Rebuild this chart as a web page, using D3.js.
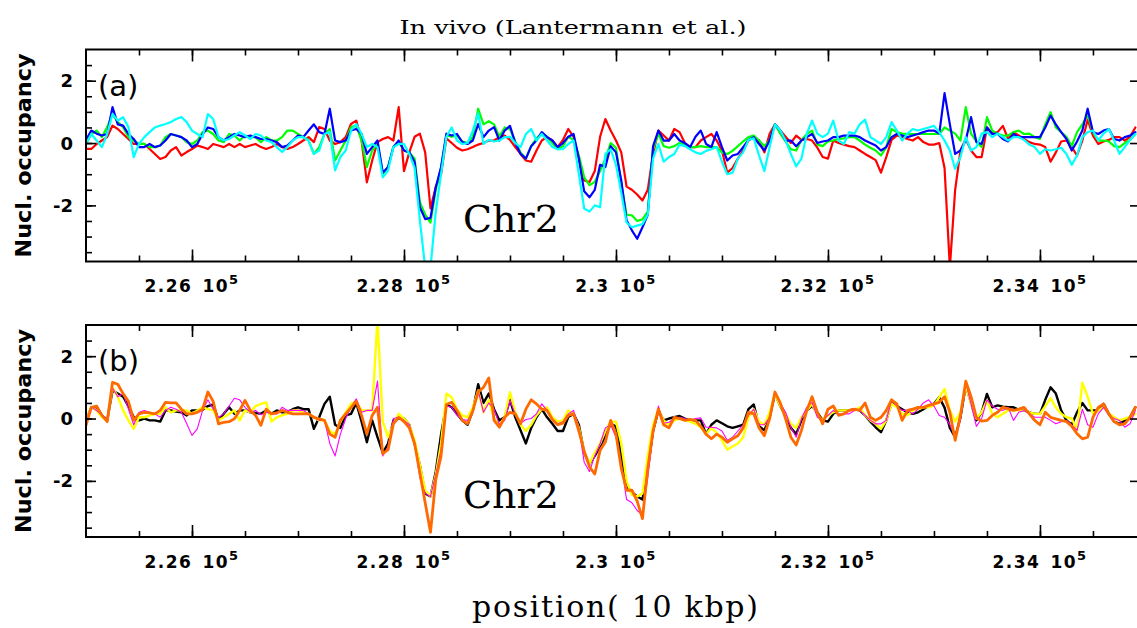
<!DOCTYPE html>
<html><head><meta charset="utf-8">
<script src="https://cdn.jsdelivr.net/npm/d3@7"></script>
<style>body{margin:0;background:#fff} svg{display:block}</style>
</head><body>
<svg id="chart" width="1137" height="628"></svg>
<script>
// ---- data (positions in units of 10^5 bp, sampled every 0.0005) ----
const xStart = 2.25, xStep = 0.0005;
const xTicksMajor = [2.26, 2.28, 2.30, 2.32, 2.34];
const xTickLabels = ["2.26", "2.28", "2.3", "2.32", "2.34"];
const xTickExp = "5";
const yTicksMajor = [-2, 0, 2];
const yTickLabels = ["-2", "0", "2"];

const redA = [
-0.19,-0.19,-0.03,0.08,0.19,0.56,0.45,0.29,0.13,-0.03,
-0.03,-0.03,-0.19,-0.35,-0.51,-0.45,-0.24,-0.13,-0.40,-0.29,
-0.19,-0.08,-0.13,-0.19,-0.03,-0.08,-0.13,-0.03,-0.13,-0.03,
-0.13,-0.08,-0.03,-0.13,-0.19,-0.13,-0.03,-0.13,-0.19,-0.13,
-0.03,0.08,0.19,0.03,0.51,0.45,0.08,-0.03,0.03,0.19,
0.61,0.72,0.08,-1.26,-0.56,0.03,0.13,0.19,0.08,1.15,
-0.9,-0.3,0.2,0.3,-0.3,-2.1,-1.4,-1.0,0.15,0.0,
-0.15,-0.24,-0.2,-0.13,-0.05,0.0,0.08,0.08,0.19,0.24,
0.1,-0.13,-0.35,-0.56,-0.6,-0.24,0.08,0.19,0.08,-0.13,
0.1,0.45,0.2,-0.5,-1.2,-1.25,-0.9,0.2,0.77,0.4,
0.08,-0.3,-1.4,-1.5,-1.65,-1.84,-1.5,-0.35,0.4,0.24,
0.08,0.45,0.35,0.0,-0.13,-0.13,0.08,0.19,0.29,0.08,
-0.24,-0.95,-0.8,-0.5,-0.24,0.08,0.19,0.08,
-0.3,0.3,0.6,0.4,0.2,0.0,0.24,0.1,0.13,0.08,
-0.15,-0.45,-0.5,0.08,0.0,-0.05,-0.1,-0.13,-0.24,-0.35,
-0.45,-0.55,-0.95,-0.45,0.1,0.24,0.19,0.13,0.08,0.19,
0.03,-0.05,-0.05,0.0,-0.8,-4.0,-1.5,-0.24,0.13,-0.24,
-0.45,-0.45,0.5,0.3,0.35,0.55,0.13,0.35,0.24,0.13,
0.03,-0.03,-0.05,-0.13,-0.6,-0.3,0.05,0.08,-0.13,-0.4,
0.08,0.75,0.24,-0.03,0.05,0.1,0.19,0.19,0.08,0.2,
0.5];
const greenA = [
-0.03,0.29,0.4,0.19,0.51,0.93,0.67,0.51,0.19,0.08,
-0.03,-0.03,-0.13,-0.13,-0.08,0.19,0.29,0.24,0.19,0.03,
-0.03,0.08,0.35,0.4,0.29,0.08,0.03,0.29,0.24,0.08,
0.24,0.19,0.19,0.03,0.19,0.08,0.08,0.19,0.4,0.4,
0.29,0.19,0.08,-0.35,-0.13,0.29,0.45,-0.56,-0.24,0.08,
0.51,0.56,0.08,-0.77,-0.24,-0.03,-0.99,-0.77,-0.13,0.03,
-0.24,-0.3,-0.5,-1.9,-2.3,-2.55,-1.5,-0.8,0.25,0.2,
0.24,0.05,0.0,0.2,1.1,0.6,0.7,0.6,0.2,0.5,
0.45,0.05,-0.3,-0.5,-0.1,0.15,0.3,0.2,0.0,-0.2,
-0.1,0.2,0.1,-0.4,-1.1,-1.35,-1.25,-0.9,-0.5,0.0,
-0.15,-1.3,-2.3,-2.32,-2.5,-2.45,-2.2,-0.2,0.3,-0.1,
-0.15,-0.1,0.0,-0.05,-0.13,-0.13,-0.1,-0.13,-0.13,-0.13,
-0.3,-0.35,-0.25,-0.1,0.05,0.19,0.24,0.08,
-0.1,0.08,0.6,0.3,0.05,-0.2,-0.24,0.1,0.29,0.4,
-0.05,-0.1,0.05,0.08,0.13,0.15,0.19,0.19,0.08,-0.05,
-0.15,-0.24,-0.4,-0.13,0.45,0.35,0.3,0.29,0.29,0.29,
0.29,0.29,0.29,0.29,0.5,0.4,0.3,0.08,1.15,0.3,
0.05,-0.13,0.83,0.4,0.29,0.24,0.24,0.35,0.4,0.29,
0.3,0.19,0.13,0.6,0.99,0.5,0.35,0.2,-0.1,0.35,
0.6,0.9,0.35,0.08,0.08,0.05,-0.1,-0.13,0.0,0.1,
0.29];
const blueA = [
0.1,0.4,0.3,0.24,0.29,1.15,0.6,0.56,0.29,0.13,
-0.13,-0.13,-0.03,-0.13,-0.08,0.08,0.29,0.24,0.19,0.08,
-0.13,-0.03,0.29,0.5,0.45,0.19,0.08,0.19,0.29,0.24,
0.19,0.24,0.19,0.13,0.13,0.08,0.03,-0.13,-0.08,0.08,
0.24,0.19,0.4,0.6,0.35,0.29,1.1,0.08,0.03,0.08,
0.4,0.45,0.29,-0.35,-0.13,0.08,-0.95,-0.77,-0.13,0.08,
-0.24,-0.3,-0.6,-2.06,-2.44,-2.4,-1.42,-0.77,0.3,0.24,
0.29,0.03,-0.03,0.08,0.61,0.19,0.4,0.51,0.08,0.4,
0.55,0.0,-0.35,-0.5,-0.1,0.08,0.35,0.19,0.08,-0.13,
0.0,0.2,0.29,-0.5,-1.55,-1.74,-1.5,-0.7,-0.77,-0.1,
-0.3,-1.2,-2.48,-2.8,-3.07,-2.7,-2.3,-0.1,0.4,0.08,
0.08,0.29,0.08,0.0,-0.13,0.2,0.4,-0.03,-0.13,0.35,
-0.13,-0.56,-0.4,-0.35,-0.13,0.1,0.19,-0.03,
-0.24,0.08,0.6,0.4,0.08,0.08,-0.1,0.08,0.19,0.29,
0.0,0.05,0.08,0.19,0.19,0.24,0.24,0.24,0.19,0.08,
0.0,-0.08,-0.24,-0.13,0.19,0.29,0.24,0.19,0.24,0.29,
0.35,0.4,0.4,0.3,1.6,0.6,-0.35,-0.24,0.08,0.83,
0.03,-0.03,0.5,0.29,0.3,0.13,0.05,0.29,0.19,0.19,
0.19,0.19,0.19,0.5,0.88,0.6,0.35,0.13,-0.24,0.05,
0.4,1.1,0.35,0.29,0.4,0.45,0.13,0.08,0.19,0.24,
0.35];
const cyanA = [
-0.03,0.29,0.08,-0.13,0.29,0.93,0.72,0.83,0.51,-0.45,
-0.03,0.19,0.35,0.5,0.56,0.61,0.67,0.77,0.83,0.67,
0.4,0.29,0.19,0.93,0.77,0.19,0.08,0.13,0.24,0.35,
0.24,0.13,0.29,0.24,0.08,0.03,-0.13,-0.29,-0.13,0.08,
0.19,0.19,0.08,-0.35,-0.24,0.29,0.35,-0.88,-0.45,-0.24,
0.4,0.61,0.29,-0.13,-0.03,-0.13,-1.1,-0.88,-0.13,-0.03,
-0.03,-0.35,-0.8,-2.48,-4.0,-4.0,-2.2,-0.99,0.2,0.5,
0.08,-0.03,0.0,0.4,0.95,-0.03,0.1,0.05,0.08,0.19,
0.2,0.0,-0.13,0.29,0.45,0.08,0.29,0.08,-0.13,-0.2,
-0.2,-0.03,0.08,-1.0,-2.1,-2.2,-2.0,-2.06,-0.35,-0.2,
-0.7,-1.6,-2.55,-2.7,-2.65,-2.6,-2.3,-0.5,-0.03,-0.6,
-0.45,-0.35,-0.05,-0.1,-0.2,-0.3,-0.35,-0.25,-0.2,-0.13,
-0.6,-1.0,-0.95,-0.5,-0.3,0.1,0.15,-0.4,
-0.9,-0.13,0.6,0.4,0.08,-0.35,-0.75,-0.5,0.3,0.72,
0.3,0.19,0.3,0.72,0.08,-0.03,0.35,0.3,0.6,0.75,
0.19,0.08,-0.03,0.19,0.67,0.4,0.08,0.3,0.45,0.4,
0.45,0.5,0.55,0.35,0.08,-0.24,-0.83,-0.45,0.19,-0.24,
-0.13,0.3,0.35,0.19,0.3,0.19,0.08,0.19,0.19,0.1,
-0.05,-0.13,-0.35,-0.2,-0.24,-0.2,-0.15,-0.35,-0.7,-0.4,
0.19,0.35,0.4,0.08,0.3,0.45,0.08,-0.35,-0.13,0.1,
0.29];

const blackB = [
-0.06,0.36,0.36,0.1,-0.06,0.9,0.8,0.7,0.4,0.04,
-0.06,0.0,-0.06,-0.06,-0.1,0.26,0.26,0.22,0.2,0.1,
0.26,0.26,0.28,0.4,0.45,-0.06,0.15,0.36,0.15,0.26,
0.26,0.2,0.18,0.15,0.26,0.15,0.26,0.2,0.2,0.3,
0.36,0.3,0.3,-0.33,0.04,0.47,0.7,-0.2,-0.3,0.1,
0.15,0.5,-0.1,-0.76,-0.06,-0.6,-1.1,-0.8,-0.06,0.0,
0.0,-0.2,-0.8,-1.5,-2.4,-2.5,-1.7,-0.5,0.45,0.36,
0.15,-0.06,-0.2,0.26,1.1,0.5,0.8,0.3,-0.06,0.04,
0.6,0.04,-0.38,-0.8,-0.3,0.04,0.3,0.04,-0.17,-0.4,
-0.4,0.05,0.15,-0.2,-1.1,-1.45,-1.2,-0.9,-0.55,-0.17,
-0.25,-1.2,-2.2,-2.36,-2.5,-2.6,-1.6,-0.4,0.26,-0.06,
0.0,0.04,0.08,0.0,-0.06,-0.06,-0.06,-0.5,-0.2,-0.06,
-0.15,-0.25,-0.3,-0.25,-0.2,0.3,0.45,-0.25,
-0.38,0.04,0.8,0.4,0.1,-0.3,-0.5,-0.06,0.26,0.4,
0.2,-0.06,-0.1,0.15,0.26,0.26,0.26,0.3,0.26,0.1,
-0.1,-0.28,-0.44,-0.06,0.5,0.4,0.3,0.2,0.15,0.2,
0.3,0.4,0.47,0.68,0.35,-0.3,-0.6,0.04,1.06,0.5,
-0.06,0.2,0.79,0.36,0.42,0.38,0.36,0.36,0.28,0.26,
0.2,0.15,0.15,0.6,1.0,0.8,0.26,-0.06,-0.2,0.2,
0.5,0.26,0.26,0.26,0.47,0.15,-0.1,-0.17,-0.06,0.04,
0.36];
const yellowB = [
-0.06,0.36,0.26,0.04,-0.06,1.0,0.7,0.26,-0.06,-0.33,
0.04,0.04,0.1,0.15,0.15,0.36,0.2,0.26,0.26,0.26,
0.15,0.26,0.36,0.3,0.26,-0.06,0.04,0.15,0.26,-0.06,
0.26,0.2,0.4,0.47,0.52,-0.1,0.04,0.1,0.15,0.26,
0.26,0.2,0.15,0.04,-0.06,-0.06,-0.4,-0.5,-0.1,0.2,
0.47,0.55,0.26,0.26,0.26,3.2,-0.1,-0.6,-0.17,0.15,
0.0,-0.2,-0.7,-1.5,-2.3,-2.5,-1.8,-0.8,0.8,0.68,
0.3,0.1,0.04,0.36,0.9,0.2,0.6,0.0,-0.2,0.04,
0.84,0.2,-0.2,-0.4,-0.2,0.1,0.3,0.36,0.04,-0.1,
-0.06,0.26,0.15,-0.3,-1.05,-1.45,-1.1,-0.8,-0.4,-0.1,
-0.1,-0.8,-2.0,-2.45,-2.5,-2.4,-1.2,-0.2,0.3,-0.06,
-0.2,-0.06,0.0,-0.06,-0.1,-0.17,-0.28,-0.5,-0.3,-0.45,
-0.7,-1.0,-0.9,-0.8,-0.6,0.04,0.3,-0.1,
-0.2,0.2,0.8,0.4,0.15,-0.17,-0.3,0.04,0.26,0.47,
0.1,-0.06,0.1,0.2,0.26,0.26,0.26,0.26,0.36,0.1,
-0.06,-0.17,-0.33,-0.06,0.47,0.36,0.15,0.1,0.26,0.3,
0.36,0.36,0.42,0.68,0.95,0.26,-0.1,0.2,1.06,0.47,
0.0,0.2,0.58,0.15,0.04,0.15,0.26,0.26,0.26,0.26,
0.2,0.15,0.15,0.4,0.65,0.36,0.15,0.04,0.0,-0.38,
1.15,0.7,0.15,0.26,0.36,0.15,0.04,-0.06,0.0,0.04,
0.15];
const magentaB = [
-0.06,0.36,0.26,0.1,0.0,0.98,0.7,0.8,0.3,-0.2,
0.2,0.26,0.2,0.15,0.04,0.26,0.36,0.3,0.2,-0.17,
-0.54,-0.33,0.26,0.6,0.3,0.04,0.15,0.4,0.65,0.6,
0.36,0.2,0.26,0.12,0.2,0.15,0.15,0.36,0.26,0.26,
0.26,0.26,0.15,0.04,-0.06,-0.06,-0.8,-1.2,-0.5,0.0,
0.36,0.63,0.2,0.26,0.26,1.2,-1.2,-0.9,0.0,0.04,
-0.06,-0.2,-0.8,-1.9,-2.4,-2.5,-1.8,-1.0,0.4,0.36,
0.1,-0.03,-0.06,0.26,0.9,0.2,0.5,0.3,-0.2,-0.06,
0.58,0.15,-0.15,-0.03,0.0,0.15,0.47,0.26,-0.03,-0.17,
-0.1,0.15,0.26,-0.3,-1.4,-1.7,-1.2,-0.81,-0.3,-0.2,
-0.6,-1.45,-2.6,-2.7,-2.95,-3.1,-1.9,-0.5,0.4,-0.15,
-0.12,0.0,0.04,0.0,-0.06,0.0,0.02,-0.28,-0.28,-0.3,
-0.4,-0.7,-0.6,-0.4,-0.2,0.1,0.3,-0.2,
-0.2,0.04,0.85,0.5,0.2,-0.28,-0.6,0.0,0.36,0.52,
0.04,-0.06,0.1,0.26,0.15,0.15,0.15,0.26,0.26,0.1,
-0.06,-0.17,-0.17,-0.06,0.58,0.4,0.26,0.26,0.15,0.3,
0.5,0.6,0.4,0.1,0.04,-0.2,-0.6,-0.06,1.15,0.47,
-0.25,0.0,0.6,0.4,0.3,0.26,0.36,-0.06,0.2,0.26,
0.15,0.04,0.04,0.04,-0.06,-0.17,-0.1,-0.06,-0.2,-0.38,
0.3,-0.2,-0.28,0.15,0.36,0.1,0.0,-0.06,-0.28,-0.17,
0.26];
const orangeB = [
-0.22,0.36,0.4,0.1,-0.1,1.16,1.1,0.8,0.55,-0.06,
0.15,0.2,0.18,0.15,0.26,0.52,0.5,0.5,0.3,0.15,
0.15,0.2,0.3,0.85,0.55,-0.17,-0.12,-0.1,-0.01,0.26,
0.58,0.26,0.1,-0.22,0.3,0.15,0.18,0.26,0.2,0.15,
0.15,0.15,0.15,0.04,-0.01,-0.06,-0.5,-0.6,-0.05,0.15,
0.35,0.55,0.1,-0.5,0.1,0.36,-1.13,-1.0,-0.17,0.04,
-0.1,-0.3,-0.8,-1.75,-2.7,-3.65,-1.95,-1.2,0.45,0.52,
0.26,-0.06,-0.17,0.26,0.85,1.0,1.3,-0.06,-0.28,0.04,
0.2,0.15,-0.17,0.3,0.6,0.47,0.3,0.26,-0.03,-0.2,
-0.15,0.1,0.15,-0.4,-1.05,-1.55,-1.78,-1.02,-0.75,-0.06,
-0.5,-1.6,-2.3,-2.3,-2.65,-3.21,-1.6,-0.4,0.3,-0.2,
-0.3,0.04,0.0,-0.06,-0.03,-0.06,-0.25,-0.5,-0.65,-0.5,
-0.6,-0.76,-0.65,-0.55,-0.3,0.2,0.15,-0.3,
-0.55,0.0,0.85,0.5,0.0,-0.6,-0.85,-0.38,0.26,0.7,
0.2,-0.17,0.3,0.4,0.1,0.15,0.26,0.3,0.26,0.5,
0.04,-0.06,0.04,0.26,0.6,0.47,-0.06,0.26,0.3,0.36,
0.36,0.42,0.47,0.52,0.7,0.2,-0.7,0.1,1.2,0.7,
0.04,-0.08,-0.06,0.1,0.2,0.36,0.31,0.26,0.3,0.36,
0.15,-0.06,-0.2,0.2,0.04,-0.01,-0.06,-0.1,-0.25,-0.49,
-0.65,-0.6,0.04,0.36,0.47,0.15,-0.1,-0.2,-0.17,0.04,
0.36];

// ---- layout ----
const svg = d3.select("#chart");
const plotLeft = 86, plotRight = 1138;
const x = d3.scaleLinear().domain([2.25, 2.34925]).range([plotLeft, plotRight]);
const yDomain = [-3.8, 3.0];
const xMinor = d3.range(2.255, 2.3475, 0.005);
const yMinor = d3.range(-3.5, 2.75, 0.5);

const panels = [
  {top: 49.5, bottom: 261.5, label: "(a)", series: [
    {v: redA, c: "#ff0000", w: 2.2},
    {v: greenA, c: "#00ff00", w: 2.2},
    {v: blueA, c: "#0000ff", w: 2.2},
    {v: cyanA, c: "#00ffff", w: 2.2}]},
  {top: 325, bottom: 537, label: "(b)", series: [
    {v: blackB, c: "#000000", w: 2.4},
    {v: yellowB, c: "#ffff00", w: 2.4},
    {v: magentaB, c: "#ff00ff", w: 1.1},
    {v: orangeB, c: "#ff6a00", w: 2.8}]}
];

const sansB = "'DejaVu Sans', sans-serif";
const serif = "'DejaVu Serif', serif";

panels.forEach((p, pi) => {
  const y = d3.scaleLinear().domain(yDomain).range([p.bottom, p.top]);
  const g = svg.append("g");
  const cid = "clip" + pi;
  svg.append("defs").append("clipPath").attr("id", cid)
    .append("rect").attr("x", plotLeft).attr("y", p.top)
    .attr("width", plotRight - plotLeft).attr("height", p.bottom - p.top);

  const line = d3.line().x((d, i) => x(xStart + i * xStep)).y(d => y(d));
  const lg = g.append("g").attr("clip-path", `url(#${cid})`);
  p.series.forEach(s => {
    lg.append("path").attr("d", line(s.v)).attr("fill", "none")
      .attr("stroke", s.c).attr("stroke-width", s.w)
      .attr("stroke-linejoin", "round").attr("stroke-linecap", "round");
  });

  const tickStyle = sel => { sel.select(".domain").remove(); sel.selectAll("line").attr("stroke", "#000").attr("stroke-width", 1.6); sel.selectAll("text").remove(); };
  g.append("g").attr("transform", `translate(0,${p.bottom})`).call(d3.axisBottom(x).tickValues(xMinor).tickSize(-6).tickFormat("")).call(tickStyle);
  g.append("g").attr("transform", `translate(0,${p.bottom})`).call(d3.axisBottom(x).tickValues(xTicksMajor).tickSize(-12).tickFormat("")).call(tickStyle);
  g.append("g").attr("transform", `translate(0,${p.top})`).call(d3.axisTop(x).tickValues(xMinor).tickSize(-6).tickFormat("")).call(tickStyle);
  g.append("g").attr("transform", `translate(0,${p.top})`).call(d3.axisTop(x).tickValues(xTicksMajor).tickSize(-12).tickFormat("")).call(tickStyle);
  g.append("g").attr("transform", `translate(${plotLeft},0)`).call(d3.axisLeft(y).tickValues(yMinor).tickSize(-6).tickFormat("")).call(tickStyle);
  g.append("g").attr("transform", `translate(${plotLeft},0)`).call(d3.axisLeft(y).tickValues(yTicksMajor).tickSize(-10).tickFormat("")).call(tickStyle);
  g.append("g").attr("transform", `translate(1137,0)`).call(d3.axisRight(y).tickValues(yTicksMajor).tickSize(-7).tickFormat("")).call(tickStyle);

  g.append("rect").attr("x", plotLeft).attr("y", p.top).attr("width", plotRight - plotLeft)
    .attr("height", p.bottom - p.top).attr("fill", "none").attr("stroke", "#000").attr("stroke-width", 2);

  xTicksMajor.forEach((v, i) => {
    const t = g.append("text").attr("x", x(v)).attr("y", p.bottom + 30.5)
      .attr("text-anchor", "middle").attr("font-family", sansB).attr("font-weight", "bold")
      .attr("font-size", 17).attr("letter-spacing", 1.4).attr("word-spacing", 3).attr("fill", "#000");
    t.append("tspan").text(xTickLabels[i] + " 10");
    t.append("tspan").attr("dy", -8).attr("font-size", 13).text(xTickExp);
  });
  yTicksMajor.forEach((v, i) => {
    g.append("text").attr("x", 73).attr("y", y(v) + 6.5).attr("text-anchor", "end")
      .attr("font-family", sansB).attr("font-weight", "bold").attr("font-size", 18).text(yTickLabels[i]);
  });
  const cy = (p.top + p.bottom) / 2;
  g.append("text").attr("transform", `translate(31,${cy}) rotate(-90)`).attr("text-anchor", "middle")
    .attr("font-family", sansB).attr("font-weight", "bold").attr("font-size", 21)
    .attr("textLength", 204).attr("lengthAdjust", "spacingAndGlyphs").text("Nucl. occupancy");
  g.append("text").attr("x", 98).attr("y", p.top + 46).attr("font-family", sansB)
    .attr("font-size", 29).text(p.label);
  g.append("text").attr("x", 463).attr("y", p.top + 182.5).attr("font-family", serif)
    .attr("font-size", 38).text("Chr2");
});

svg.append("text").attr("x", 573).attr("y", 34).attr("text-anchor", "middle")
  .attr("font-family", serif).attr("font-size", 18).attr("textLength", 347)
  .attr("lengthAdjust", "spacingAndGlyphs").text("In vivo (Lantermann et al.)");
svg.append("text").attr("x", 615).attr("y", 617).attr("text-anchor", "middle")
  .attr("font-family", serif).attr("font-size", 30).attr("textLength", 286)
  .attr("lengthAdjust", "spacing").text("position( 10 kbp)");
</script>
</body></html>
